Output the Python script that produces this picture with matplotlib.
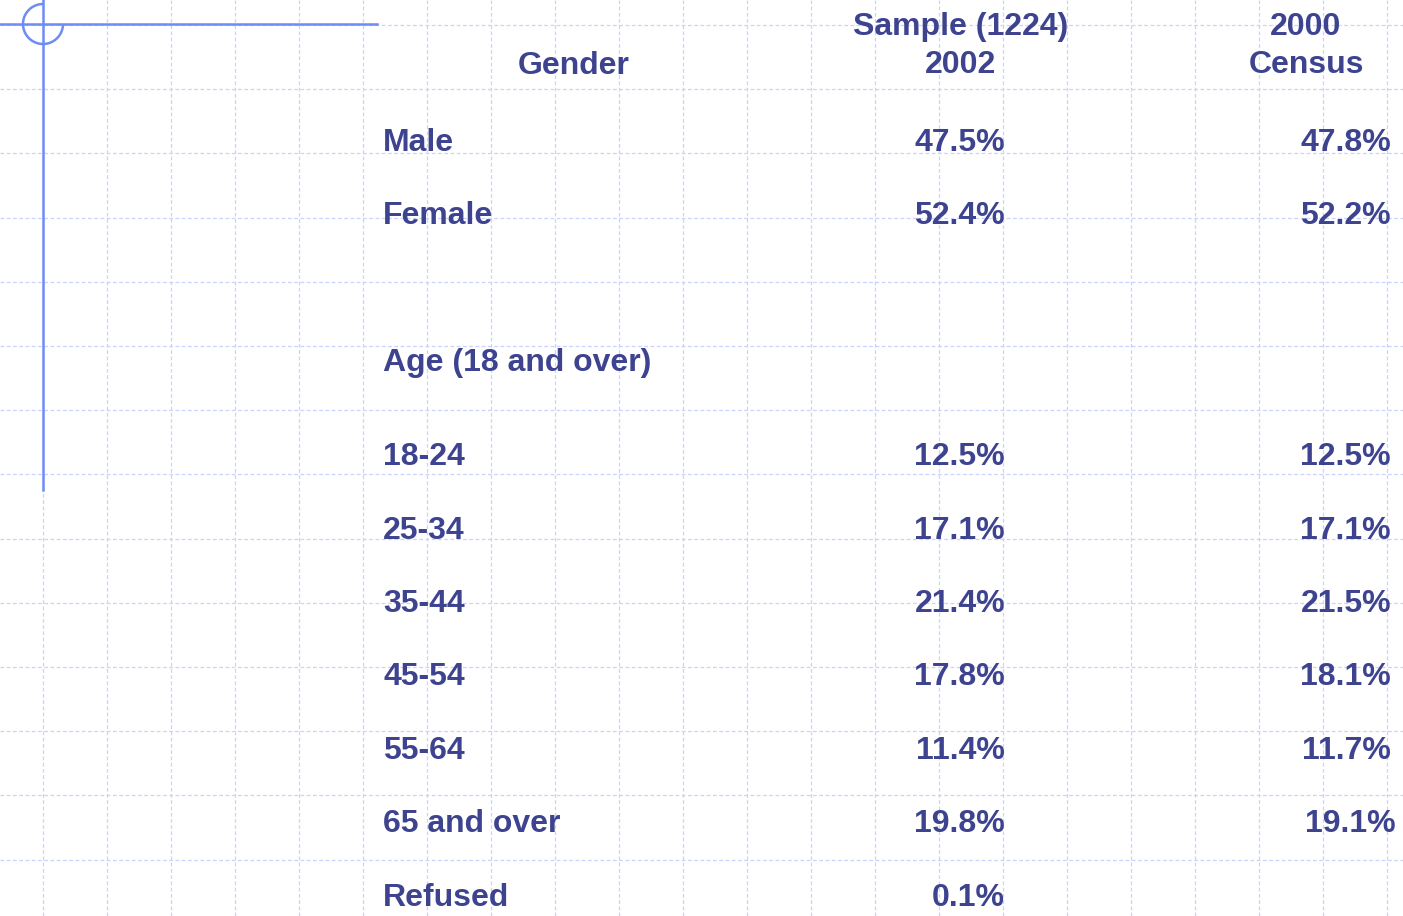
import matplotlib.pyplot as plt
from matplotlib.patches import Arc

# table content
headers = ["Gender", "Sample (1224)\n2002", "2000\nCensus"]
rows = ["Male", "Female", "Age (18 and over)", "18-24", "25-34", "35-44",
        "45-54", "55-64", "65 and over", "Refused"]
sample = ["47.5%", "52.4%", "", "12.5%", "17.1%", "21.4%",
          "17.8%", "11.4%", "19.8%", "0.1%"]
census = ["47.8%", "52.2%", "", "12.5%", "17.1%", "21.5%",
          "18.1%", "11.7%", "19.1%", ""]

# layout (pixel coordinates of the slide)
W, H = 1403, 916
row_y = [143, 216, 363, 457, 531, 604, 677, 751, 824, 898]
label_x = 383
sample_x = 1005
census_x = 1391

text_color = "#3d438f"
grid_color = "#c9d3fc"
accent = "#6f8cf5"

fig = plt.figure(figsize=(W / 100, H / 100), dpi=100)
ax = fig.add_axes([0, 0, 1, 1])
ax.set_xlim(0, W)
ax.set_ylim(H, 0)
ax.axis("off")

# background grid
for gx in range(43, W, 64):
    ax.axvline(gx, color=grid_color, lw=0.9, ls=(0, (3, 2)), zorder=0)
y = 25.0
while y < H:
    ax.axhline(y, color=grid_color, lw=0.9, ls=(0, (3, 2)), zorder=0)
    y += 64.2

# crosshair ornament
ax.plot([0, 377], [24, 24], color=accent, lw=1.8, zorder=1)
ax.plot([43, 43], [0, 490], color=accent, lw=1.8, zorder=1)
ax.add_patch(Arc((43, 24), 40, 40, theta1=0, theta2=270, color=accent, lw=1.8))

font = dict(family=["Liberation Sans", "DejaVu Sans"], fontweight="bold",
            fontsize=23, color=text_color)

ax.text(574, 66, headers[0], ha="center", va="center", **font)
ax.text(961, 46, headers[1], ha="center", va="center", linespacing=1.38, **font)
ax.text(1306, 46, headers[2], ha="center", va="center", linespacing=1.38, **font)

for i, name in enumerate(rows):
    ax.text(label_x, row_y[i], name, ha="left", va="center", **font)
    if sample[i]:
        ax.text(sample_x, row_y[i], sample[i], ha="right", va="center", **font)
    if census[i]:
        cx = census_x + (5 if name == "65 and over" else 0)
        ax.text(cx, row_y[i], census[i], ha="right", va="center", **font)

fig.savefig("out.png", dpi=100)
